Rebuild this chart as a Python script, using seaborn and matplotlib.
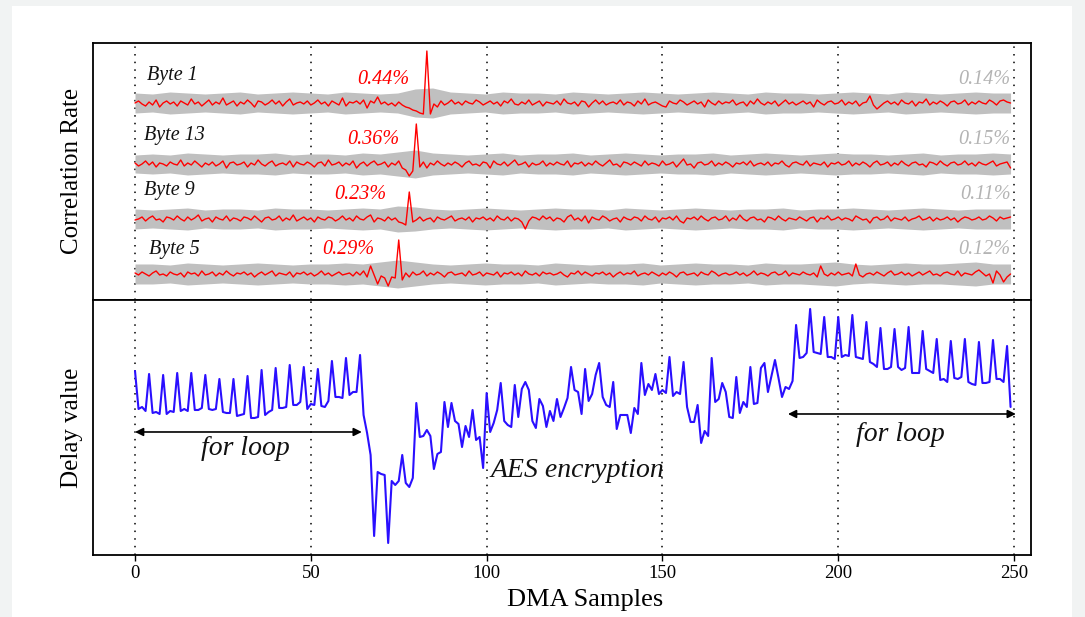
import numpy as np
import seaborn as sns
import matplotlib.pyplot as plt
from matplotlib.patches import Rectangle

sns.set_theme(style="white")
plt.rcParams["font.family"] = ["Liberation Serif", "DejaVu Serif"]
plt.rcParams["text.color"] = "black"

# x ticks of the shared axis
XTICKS = [0, 50, 100, 150, 200, 250]

# delay value per DMA sample (arbitrary units)
DELAY = [
    184, 146, 148, 144, 181, 142, 143, 141, 180, 141,
    144, 143, 182, 144, 146, 144, 182, 145, 145, 147,
    180, 146, 145, 146, 176, 143, 142, 142, 176, 139,
    140, 141, 179, 137, 137, 138, 185, 140, 143, 145,
    187, 147, 147, 148, 190, 150, 150, 153, 188, 146,
    151, 150, 186, 149, 148, 154, 194, 158, 158, 157,
    197, 160, 163, 163, 200, 140, 122, 100, 19, 83,
    81, 80, 12, 74, 70, 74, 100, 72, 68, 77,
    152, 118, 119, 125, 119, 86, 101, 103, 153, 128,
    152, 134, 131, 108, 129, 118, 145, 115, 118, 87,
    162, 123, 132, 145, 172, 134, 130, 128, 170, 138,
    166, 173, 165, 134, 127, 156, 149, 128, 144, 134,
    156, 138, 147, 157, 188, 165, 163, 141, 186, 154,
    161, 180, 192, 158, 150, 148, 173, 126, 140, 140,
    140, 122, 147, 141, 192, 160, 171, 165, 181, 161,
    165, 162, 198, 159, 163, 161, 193, 148, 133, 133,
    150, 112, 124, 119, 197, 153, 156, 172, 163, 138,
    137, 178, 142, 153, 148, 188, 151, 152, 187, 192,
    163, 179, 195, 177, 158, 168, 166, 174, 230, 197,
    198, 202, 246, 203, 202, 201, 238, 198, 198, 196,
    238, 198, 200, 199, 240, 198, 197, 196, 233, 193,
    191, 188, 227, 186, 186, 188, 226, 188, 185, 187,
    228, 182, 182, 182, 224, 186, 184, 182, 216, 175,
    176, 173, 214, 177, 176, 178, 216, 173, 171, 170,
    213, 172, 172, 173, 215, 176, 176, 173, 209, 148,
]

# correlation traces (deviation from each row's level, picture units)
BYTE1 = [
    0, 2, -1, -3, 1, -2, 3, -4, 0, 2,
    -1, 1, -3, 2, 0, -2, 4, -1, 1, -3,
    0, 3, -2, 1, -1, 5, -2, 0, 2, -3,
    1, -1, 3, 0, -4, 2, 1, -2, 0, 3,
    -1, 2, -3, 1, 4, -2, 0, 1, -1, 2,
    -2, 0, 3, -1, 1, -3, 2, 0, -2, 5,
    -3, 1, 0, 2, -1, 3, -5, 2, 0, 6,
    -1, 1, -2, 0, -3, 1, -2, -4, -5, -7,
    -8, -10, -11, 52, -11, -1, -4, 2, -2, 0,
    3, -1, 1, -2, 2, 0, -1, 3, 1, -2,
    0, 2, -1, 1, -3, 2, 0, 4, -1, -2,
    1, -1, 3, -2, 0, 2, -3, 1, 0, -1,
    2, -2, 4, 0, -1, 1, -3, 2, 1, -4,
    0, 3, -1, 2, -2, 0, 1, -1, 3, -2,
    1, 0, -3, 2, -1, 4, -2, 0, 1, -1,
    -3, -4, 2, 0, -1, 3, 1, -2, 0, 2,
    -1, 1, -4, 3, 0, -2, 2, -1, 1, 0,
    3, -2, 0, 1, -3, 2, -1, 4, 0, -2,
    1, -1, 2, -3, 0, 3, -1, 1, -2, 0,
    2, -1, 1, -4, 3, 0, -2, 1, 2, -1,
    0, 3, -2, 1, -1, 2, -3, 0, 1, 7,
    -2, -6, -3, 0, 2, -1, 1, -2, 3, 0,
    -1, 2, -3, 1, 0, 4, -2, 1, -1, 2,
    0, -3, 1, 2, -1, 0, 3, -2, 1, -1,
    2, 0, -1, 3, 1, -2, 2, 3, 1, 0,
]
BYTE13 = [
    1, -2, 0, 3, -1, 2, -3, 1, 0, -2,
    2, 0, -1, 4, -2, 1, -1, 3, 0, -3,
    1, -1, 2, -2, 0, 3, -4, 1, 2, -1,
    0, 2, -3, 1, -1, 4, 0, -2, 1, 3,
    -2, 0, 1, -1, 3, -3, 2, 0, -1, 2,
    0, -3, 1, 2, -2, 4, -1, 0, 2, -2,
    1, -1, 3, -4, 0, 2, -2, 1, 3, -1,
    0, 2, -3, 1, -1, 3, -4, -6, -12, -7,
    40, -3, 2, -4, 1, -1, 3, 0, -2, 1,
    -1, 2, 0, -3, 1, 3, -1, 0, -2, 2,
    1, -4, 3, 0, -1, 2, -2, 1, 4, -1,
    0, 2, -3, 1, -1, 0, 3, -2, 1, -1,
    2, 0, -1, 3, -3, 1, 0, 2, -2, 1,
    -1, 3, 0, -2, 1, 4, -1, 0, -3, 2,
    1, -1, 2, 0, -2, 3, -1, 1, 0, -2,
    3, -1, 0, 2, -3, 1, 5, -1, 0, -4,
    1, 2, -1, 0, 3, -2, 1, -1, 2, 0,
    -3, 1, 0, 2, -1, 3, -2, 0, 1, -1,
    2, -2, 1, 0, 3, -1, -3, 1, 2, 0,
    -1, 3, -2, 1, 0, -1, 2, -3, 1, 0,
    2, -1, 0, 3, -2, 1, -1, 2, 0, -3,
    1, 3, -1, 0, 2, -2, 1, -1, 3, 0,
    -2, 1, 2, -1, 0, -3, 2, 1, -1, 3,
    0, -2, 1, 2, -1, 0, 3, -1, 1, -2,
    2, 0, -1, 1, 3, -2, 0, 1, 2, -4,
]
BYTE9 = [
    -1, 0, 2, -2, 1, 3, -1, 0, -3, 2,
    1, -1, 3, 0, -2, 2, -1, 1, 4, -2,
    0, 1, -3, 2, 0, -1, 3, -2, 1, 0,
    -2, 2, 1, -1, 3, 0, -3, 1, 2, -1,
    0, 3, -2, 1, -1, 4, -2, 0, 2, -1,
    1, -3, 2, 0, -1, 2, 1, -2, 0, 3,
    -1, 1, -2, 3, 0, -1, 2, 4, -3, 1,
    0, -2, 2, -1, 1, -3, -4, -6, 27, -3,
    -1, 2, -2, 0, 1, -3, 2, 0, -1, 1,
    3, -2, 0, 1, -1, 2, -3, 1, 0, 2,
    -1, 1, -2, 3, 0, -1, 2, -2, 1, 0,
    -3, -10, -2, 2, 1, -1, 3, 0, 2, -2,
    1, 0, -3, 2, 4, -1, 1, -2, 3, -4,
    2, 0, -1, 3, 1, -2, 0, 1, -3, 2,
    0, -1, 2, 1, -2, 3, 0, -1, 2, -3,
    1, 0, 2, -1, 3, -2, -4, 1, 0, 2,
    -1, 3, 0, -2, 1, 2, -1, 0, 3, -2,
    1, -1, 4, 0, -2, 1, 2, -1, 0, -3,
    2, 1, -1, 3, 0, -2, 1, 0, -1, 2,
    0, -2, 1, 2, -3, 1, 0, 3, -1, 0,
    2, -1, 1, 0, -2, 3, 1, -1, 0, -4,
    1, 2, -1, 0, 3, -2, 1, 0, -1, 2,
    -2, 0, 1, 3, -1, 0, 2, -2, 1, -1,
    0, 2, -1, 1, -3, 0, 2, 1, -1, 0,
    2, -1, 0, 3, 1, -2, 2, 0, 1, 2,
]
BYTE5 = [
    1, -1, 2, 0, -2, 1, 3, -1, 0, -2,
    2, 0, -1, 1, -3, 2, 0, 1, -2, 3,
    -1, 0, 2, -2, 1, -1, 3, 0, -2, 1,
    0, 2, -1, 1, -3, 0, 2, -1, 1, 3,
    -2, 1, 0, -1, 2, -3, 1, 0, 2, -1,
    1, -2, 0, 3, -1, 1, -2, 0, 2, -1,
    0, 1, -2, 2, -1, 3, -3, 8, -1, -10,
    -2, -4, -12, -3, -4, 34, -6, 1, -3, 2,
    -1, 0, 3, -2, 1, -1, 2, 0, -3, 1,
    2, -1, 0, 1, -2, 3, -1, 0, 2, -2,
    1, 0, -1, 2, -3, 1, 0, 2, -1, 1,
    -2, 3, 0, -1, 1, -2, 2, 0, 1, -1,
    0, 2, -1, -3, 1, 0, 3, -1, 2, 0,
    -2, 1, 0, 2, -1, 1, -3, 0, 2, -1,
    1, 0, 3, -2, 0, 1, -1, 2, 0, -2,
    1, -1, 2, 0, -3, 1, 2, -1, 0, 1,
    -2, 2, 0, -1, 3, 1, -2, 0, 1, -1,
    0, 2, -1, 1, -2, 0, 3, -1, 1, 0,
    -2, 1, 2, -1, 0, 3, -2, 1, 0, -1,
    2, 0, -1, 1, -3, 8, 0, -2, 1, -1,
    2, -1, 0, 1, -2, 10, -1, -3, 0, 1,
    -1, 2, 0, -2, 1, 3, -1, 0, 2, -1,
    1, -2, 0, 2, -1, 1, 3, -1, 0, -2,
    1, 2, 0, -1, 3, -2, 1, 0, -1, 2,
    4, 1, -2, 0, -9, 3, -1, -8, -3, 0,
]

# half width of the grey band around each trace, every 5 samples
BAND1 = [10, 9, 11, 10, 9, 10, 11, 9, 10, 11, 10, 9, 11, 10, 9, 10, 14, 15,
         11, 10, 9, 11, 10, 10, 9, 11, 10, 9, 10, 11, 10, 9, 10, 11, 10, 9,
         11, 10, 10, 9, 10, 11, 10, 9, 11, 10, 9, 10, 11, 10, 10]
BAND13 = [9, 10, 9, 11, 10, 9, 10, 10, 11, 9, 10, 10, 9, 11, 10, 12, 14, 11,
          10, 9, 10, 11, 9, 10, 10, 11, 9, 10, 11, 10, 9, 10, 10, 11, 9, 10,
          11, 10, 9, 10, 11, 10, 10, 9, 10, 11, 9, 10, 10, 11, 10]
BAND9 = [10, 9, 10, 11, 9, 10, 10, 9, 11, 10, 10, 9, 10, 11, 10, 13, 12, 10,
         9, 10, 11, 10, 9, 10, 11, 10, 10, 9, 11, 10, 9, 10, 11, 10, 9, 10,
         10, 11, 9, 10, 10, 11, 10, 9, 10, 11, 10, 9, 10, 10, 10]
BAND5 = [10, 10, 9, 11, 10, 9, 10, 11, 10, 9, 10, 10, 11, 10, 12, 14, 12, 10,
         9, 10, 11, 10, 10, 9, 11, 10, 9, 10, 10, 11, 9, 10, 11, 10, 10, 9,
         11, 10, 10, 11, 12, 10, 9, 10, 11, 10, 10, 11, 12, 10, 10]

ROWS = ["Byte 1", "Byte 13", "Byte 9", "Byte 5"]
PEAK_RATE = ["0.44%", "0.36%", "0.23%", "0.29%"]
REST_RATE = ["0.14%", "0.15%", "0.11%", "0.12%"]
TRACES = [BYTE1, BYTE13, BYTE9, BYTE5]
BANDS = [BAND1, BAND13, BAND9, BAND5]

# layout of the rows inside the top panel
row_level = [197, 136, 81, 26]
label_x = [3.5, 2.6, 2.6, 4.0]
label_dy = [28, 28, 28, 24]
peak_text_x = [78.1, 75.1, 71.4, 68.0]

fig = plt.figure(figsize=(10.85, 6.17), dpi=100, facecolor="#f1f3f3")
fig.patches.append(Rectangle((12 / 1085, 0), 1060 / 1085, 1 - 6 / 617,
                             transform=fig.transFigure, facecolor="white",
                             edgecolor="none", zorder=-10))

ax_top = fig.add_axes([0.0857, 0.5138, 0.8645, 0.4165])
ax_bot = fig.add_axes([0.0857, 0.1005, 0.8645, 0.4133])

for i, name in enumerate(ROWS):
    vals = np.array(TRACES[i], dtype=float)
    x = np.arange(len(vals))
    base = row_level[i]
    band = np.array(BANDS[i], dtype=float)
    bx = np.linspace(0, len(vals) - 1, len(band))
    ax_top.fill_between(bx, base - band, base + band, color="#c0c0c0",
                        linewidth=0, zorder=1)
    sns.lineplot(x=x, y=base + vals, ax=ax_top, color="red", linewidth=1.0,
                 zorder=3)
    ax_top.text(label_x[i], base + label_dy[i], name, style="italic",
                fontsize=14.5, color="#111111", ha="left", va="center")
    ax_top.text(peak_text_x[i], base + 24, PEAK_RATE[i], style="italic",
                fontsize=14.5, color="red", ha="right", va="center")
    ax_top.text(249, base + 24, REST_RATE[i], style="italic",
                fontsize=14.5, color="#b4b4b4", ha="right", va="center")

sns.lineplot(x=np.arange(len(DELAY)), y=DELAY, ax=ax_bot, color="#2a0fff",
             linewidth=1.5, zorder=3)

arrow = dict(arrowstyle="<|-|>", color="black", lw=1.2, mutation_scale=12,
             shrinkA=0, shrinkB=0)
ax_bot.annotate("", xy=(0, 123), xytext=(64.5, 123), arrowprops=arrow)
ax_bot.annotate("", xy=(185.7, 141), xytext=(250.5, 141), arrowprops=arrow)
ax_bot.text(31.3, 106, "for loop", style="italic", fontsize=20,
            color="#111111", ha="center", va="center")
ax_bot.text(217.6, 120, "for loop", style="italic", fontsize=20,
            color="#111111", ha="center", va="center")
ax_bot.text(101.0, 84, "AES encryption", style="italic", fontsize=20,
            color="#111111", ha="left", va="center")

for ax in (ax_top, ax_bot):
    ax.set_xlim(-11.95, 254.8)
    for v in XTICKS:
        ax.axvline(v, color="black", linestyle=(0, (1, 4)), linewidth=1.1,
                   zorder=0)
    ax.set_yticks([])
    for sp in ax.spines.values():
        sp.set_color("black")
        sp.set_linewidth(1.3)

ax_top.set_ylim(0, 257)
ax_bot.set_ylim(0, 255)
ax_top.set_xticks([])
ax_bot.set_xticks(XTICKS)
ax_bot.tick_params(axis="x", bottom=True, direction="out", length=4,
                   width=1, labelsize=13.5, colors="black")
ax_top.set_xlabel("")
ax_bot.set_xlabel("")
ax_top.set_ylabel("")
ax_bot.set_ylabel("")

fig.text(0.0664, 0.7229, "Correlation Rate", rotation=90, fontsize=18,
         ha="center", va="center")
fig.text(0.0664, 0.3063, "Delay value", rotation=90, fontsize=18,
         ha="center", va="center")
fig.text(0.539, 0.027, "DMA Samples", fontsize=19, ha="center", va="center")

fig.savefig("out.png", dpi=100, facecolor=fig.get_facecolor())
